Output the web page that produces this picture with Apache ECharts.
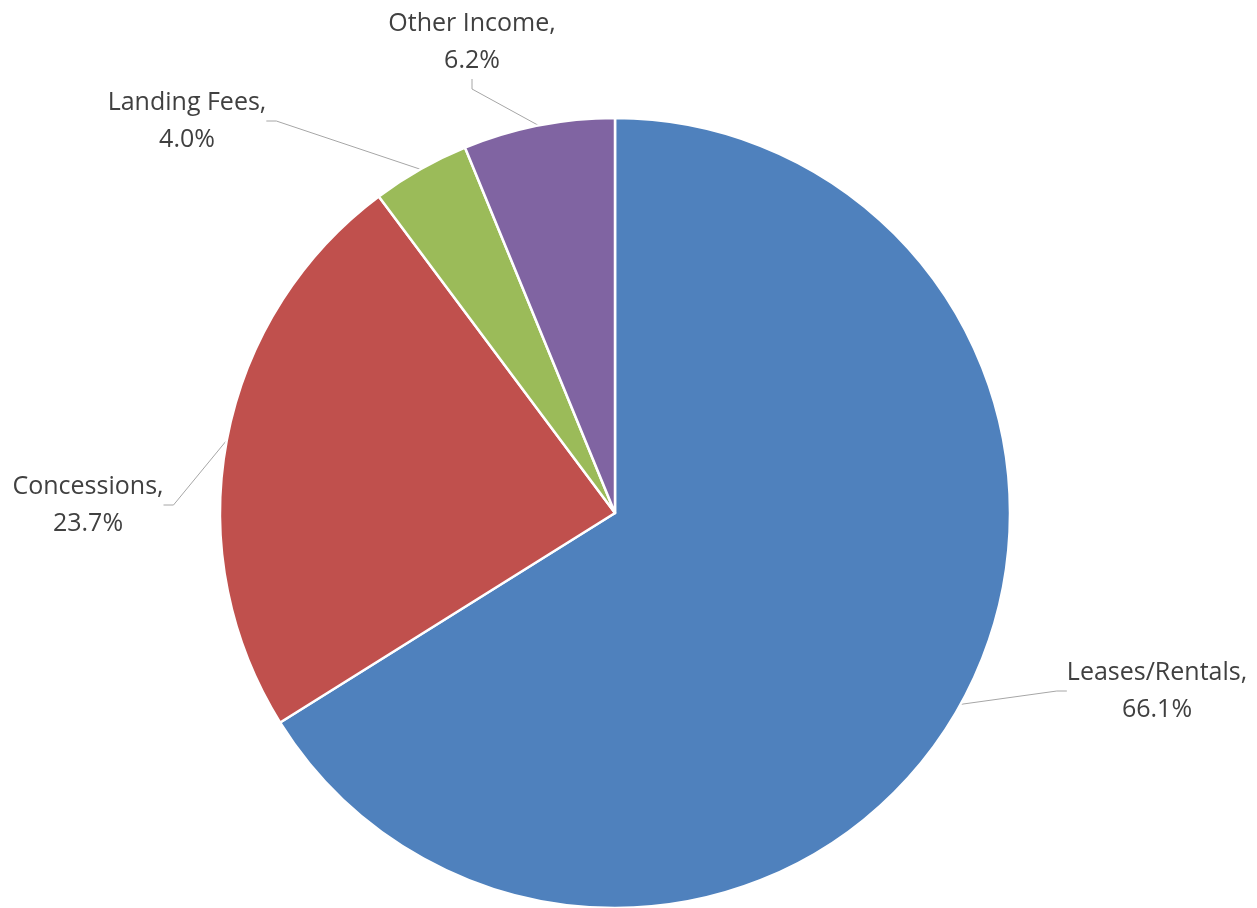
<!DOCTYPE html>
<html>
<head>
<meta charset="utf-8">
<script src="https://cdn.jsdelivr.net/npm/echarts@6/dist/echarts.min.js"></script>
<style>
  html, body { margin: 0; padding: 0; background: #fff; }
  #chart { width: 1257px; height: 908px; }
</style>
</head>
<body>
<div id="chart"></div>
<script>
// Revenue share by source
var categories = ['Leases/Rentals', 'Concessions', 'Landing Fees', 'Other Income'];
var shares = [66.1, 23.7, 4.0, 6.2];
var colors = ['#4F81BD', '#C0504D', '#9BBB59', '#8064A2'];

// Label anchor points (centre of each two-line label)
var labelPos = [[1157, 691], [88, 505], [187, 121], [472, 42]];

var chart = echarts.init(document.getElementById('chart'));
chart.setOption({
  animation: false,
  series: [{
    type: 'pie',
    center: [615, 513],
    radius: 395,
    startAngle: 90,
    clockwise: true,
    data: categories.map(function (name, i) {
      return { name: name, value: shares[i], itemStyle: { color: colors[i] } };
    }),
    itemStyle: { borderColor: '#fff', borderWidth: 2.5 },
    label: {
      show: true,
      position: 'outside',
      formatter: function (p) { return p.name + ',\n' + p.value.toFixed(1) + '%'; },
      fontFamily: 'Open Sans',
      fontSize: 25,
      lineHeight: 37,
      color: '#404040',
      align: 'center'
    },
    labelLine: {
      show: true,
      length: 20,
      length2: 10,
      lineStyle: { color: '#A6A6A6', width: 1 }
    },
    labelLayout: function (params) {
      var p = labelPos[params.dataIndex];
      return { x: p[0], y: p[1], align: 'center', verticalAlign: 'middle' };
    }
  }]
});
</script>
</body>
</html>
